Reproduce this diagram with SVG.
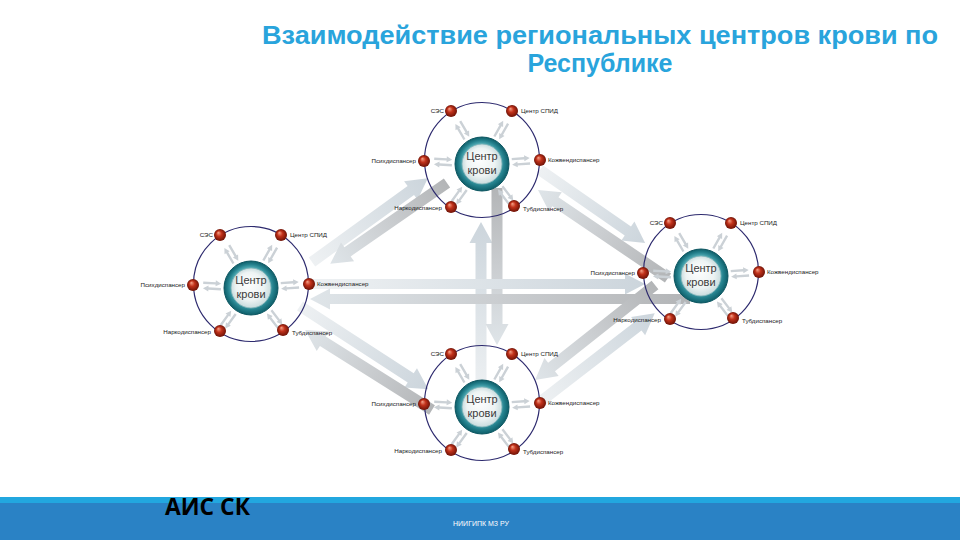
<svg xmlns="http://www.w3.org/2000/svg" xmlns:xlink="http://www.w3.org/1999/xlink" width="960" height="540" viewBox="0 0 960 540">
<defs>
<style>
.lbl{font-family:"Liberation Sans",Arial,sans-serif;font-size:6.2px;fill:#222}
.e{text-anchor:end}
.hubt{font-family:"Liberation Sans",Arial,sans-serif;font-size:11px;fill:#3a3a3a;text-anchor:middle}
.ring{fill:none;stroke:#2d2a6e;stroke-width:1.2}
.dot{fill:url(#gDot)}
.hubo{fill:url(#gHub);stroke:#0b5560;stroke-width:1}
.hubi{fill:url(#gHubIn);stroke:#7fb3b8;stroke-width:0.8}
.al{fill:url(#gLight)}
.ad{fill:url(#gDark)}
.sa{fill:#cbd1d6}
.title{font-family:"Liberation Sans",Arial,sans-serif;font-weight:bold;font-size:25px;fill:#29a4dc;text-anchor:middle}
</style>
<linearGradient id="gLight" x1="0" y1="0" x2="1" y2="0">
<stop offset="0" stop-color="#eef1f3"/>
<stop offset="1" stop-color="#ccd5dc"/>
</linearGradient>
<linearGradient id="gDark" x1="0" y1="0" x2="1" y2="0">
<stop offset="0" stop-color="#b3b5b7"/>
<stop offset="0.5" stop-color="#cacdd0"/>
<stop offset="1" stop-color="#dfe5e9"/>
</linearGradient>
<radialGradient id="gDot" cx="0.5" cy="0.5" r="0.5" fx="0.35" fy="0.3">
<stop offset="0" stop-color="#f5a48a"/>
<stop offset="0.45" stop-color="#c2321b"/>
<stop offset="1" stop-color="#6e1206"/>
</radialGradient>
<radialGradient id="gHub" cx="0.5" cy="0.5" r="0.5" fx="0.45" fy="0.4">
<stop offset="0.7" stop-color="#4aa6b0"/>
<stop offset="0.85" stop-color="#237f8b"/>
<stop offset="1" stop-color="#0e5e69"/>
</radialGradient>
<radialGradient id="gHubIn" cx="0.5" cy="0.5" r="0.5" fx="0.4" fy="0.35">
<stop offset="0" stop-color="#ffffff"/>
<stop offset="0.7" stop-color="#edf3f3"/>
<stop offset="1" stop-color="#c9dcde"/>
</radialGradient>
<g id="pair">
<path class="sa" d="M30,-4 L42.5,-4 L42.5,-5.8 L48,-2.8 L42.5,0.2 L42.5,-1.6 L30,-1.6 Z"/>
<path class="sa" d="M48,1.6 L35.5,1.6 L35.5,-0.2 L30,2.8 L35.5,5.8 L35.5,4 L48,4 Z"/>
</g>
<g id="spokes">
<use xlink:href="#pair" href="#pair" transform="rotate(-120.3)"/>
<use xlink:href="#pair" href="#pair" transform="rotate(-60.5)"/>
<use xlink:href="#pair" href="#pair" transform="rotate(-177)"/>
<use xlink:href="#pair" href="#pair" transform="rotate(-3.9)"/>
<use xlink:href="#pair" href="#pair" transform="rotate(125.8)"/>
<use xlink:href="#pair" href="#pair" transform="rotate(52.7)"/>
</g>
</defs>

<rect x="0" y="0" width="960" height="540" fill="#ffffff"/>

<g id="title">
<text class="title" x="600" y="44" textLength="676" lengthAdjust="spacingAndGlyphs">Взаимодействие региональных центров крови по</text>
<text class="title" x="600" y="72">Республике</text>
</g>

<g id="connectors">
<path class="al" transform="translate(312,262) rotate(-35.9)" d="M0,-5.5 H122 V-11.5 L143,0 L122,11.5 V5.5 H0 Z"/>
<path class="ad" transform="translate(447,183) rotate(145.3)" d="M0,-5.5 H121 V-11.5 L142,0 L121,11.5 V5.5 H0 Z"/>
<path class="al" transform="translate(540,170) rotate(34.8)" d="M0,-5.5 H107 V-11.5 L128,0 L107,11.5 V5.5 H0 Z"/>
<path class="ad" transform="translate(668,278) rotate(-145.9)" d="M0,-5.5 H136 V-11.5 L157,0 L136,11.5 V5.5 H0 Z"/>
<path class="al" transform="translate(481,395) rotate(-90)" d="M0,-5.5 H152 V-11.5 L173,0 L152,11.5 V5.5 H0 Z"/>
<path class="ad" transform="translate(497,188) rotate(90)" d="M0,-5.5 H136 V-11.5 L157,0 L136,11.5 V5.5 H0 Z"/>
<path class="al" transform="translate(312,284)" d="M0,-5 H313 V-10.5 L333,0 L313,10.5 V5 H0 Z"/>
<path class="ad" transform="translate(690,299) rotate(180)" d="M0,-5 H360 V-10.5 L380,0 L360,10.5 V5 H0 Z"/>
<path class="al" transform="translate(300,306) rotate(33)" d="M0,-5.5 H132 V-11.5 L153,0 L132,11.5 V5.5 H0 Z"/>
<path class="ad" transform="translate(432,410) rotate(-147.8)" d="M0,-5.5 H129 V-11.5 L150,0 L129,11.5 V5.5 H0 Z"/>
<path class="ad" transform="translate(655,285) rotate(141.6)" d="M0,-5.5 H132 V-11.5 L153,0 L132,11.5 V5.5 H0 Z"/>
<path class="al" transform="translate(540,402) rotate(-37.7)" d="M0,-5.5 H124 V-11.5 L145,0 L124,11.5 V5.5 H0 Z"/>
</g>

<g id="center-top" transform="translate(482,160)">
<circle class="ring" r="57.5"/>
<use xlink:href="#spokes" href="#spokes" transform="translate(0,4)"/>
<circle class="hubo" cx="0" cy="4" r="27"/>
<circle class="hubi" cx="0" cy="4" r="20"/>
<text class="hubt" x="0" y="0">Центр</text>
<text class="hubt" x="0" y="14">крови</text>
<circle class="dot" cx="-31" cy="-49" r="6"/>
<circle class="dot" cx="30" cy="-49" r="6"/>
<circle class="dot" cx="-58" cy="1" r="6"/>
<circle class="dot" cx="58" cy="0" r="6"/>
<circle class="dot" cx="-31" cy="47" r="6"/>
<circle class="dot" cx="32" cy="46" r="6"/>
<text class="lbl e" x="-38" y="-47">СЭС</text>
<text class="lbl" x="39" y="-47">Центр СПИД</text>
<text class="lbl e" x="-66" y="3">Психдиспансер</text>
<text class="lbl" x="66" y="2">Кожвендиспансер</text>
<text class="lbl e" x="-40" y="50">Наркодиспансер</text>
<text class="lbl" x="41" y="51">Тубдиспансер</text>
</g>

<g id="center-left" transform="translate(251,284)">
<circle class="ring" r="57.5"/>
<use xlink:href="#spokes" href="#spokes" transform="translate(0,4)"/>
<circle class="hubo" cx="0" cy="4" r="27"/>
<circle class="hubi" cx="0" cy="4" r="20"/>
<text class="hubt" x="0" y="0">Центр</text>
<text class="hubt" x="0" y="14">крови</text>
<circle class="dot" cx="-31" cy="-49" r="6"/>
<circle class="dot" cx="30" cy="-49" r="6"/>
<circle class="dot" cx="-58" cy="1" r="6"/>
<circle class="dot" cx="58" cy="0" r="6"/>
<circle class="dot" cx="-31" cy="47" r="6"/>
<circle class="dot" cx="32" cy="46" r="6"/>
<text class="lbl e" x="-38" y="-47">СЭС</text>
<text class="lbl" x="39" y="-47">Центр СПИД</text>
<text class="lbl e" x="-66" y="3">Психдиспансер</text>
<text class="lbl" x="66" y="2">Кожвендиспансер</text>
<text class="lbl e" x="-40" y="50">Наркодиспансер</text>
<text class="lbl" x="41" y="51">Тубдиспансер</text>
</g>

<g id="center-right" transform="translate(701,272)">
<circle class="ring" r="57.5"/>
<use xlink:href="#spokes" href="#spokes" transform="translate(0,4)"/>
<circle class="hubo" cx="0" cy="4" r="27"/>
<circle class="hubi" cx="0" cy="4" r="20"/>
<text class="hubt" x="0" y="0">Центр</text>
<text class="hubt" x="0" y="14">крови</text>
<circle class="dot" cx="-31" cy="-49" r="6"/>
<circle class="dot" cx="30" cy="-49" r="6"/>
<circle class="dot" cx="-58" cy="1" r="6"/>
<circle class="dot" cx="58" cy="0" r="6"/>
<circle class="dot" cx="-31" cy="47" r="6"/>
<circle class="dot" cx="32" cy="46" r="6"/>
<text class="lbl e" x="-38" y="-47">СЭС</text>
<text class="lbl" x="39" y="-47">Центр СПИД</text>
<text class="lbl e" x="-66" y="3">Психдиспансер</text>
<text class="lbl" x="66" y="2">Кожвендиспансер</text>
<text class="lbl e" x="-40" y="50">Наркодиспансер</text>
<text class="lbl" x="41" y="51">Тубдиспансер</text>
</g>

<g id="center-bottom" transform="translate(482,403)">
<circle class="ring" r="57.5"/>
<use xlink:href="#spokes" href="#spokes" transform="translate(0,4)"/>
<circle class="hubo" cx="0" cy="4" r="27"/>
<circle class="hubi" cx="0" cy="4" r="20"/>
<text class="hubt" x="0" y="0">Центр</text>
<text class="hubt" x="0" y="14">крови</text>
<circle class="dot" cx="-31" cy="-49" r="6"/>
<circle class="dot" cx="30" cy="-49" r="6"/>
<circle class="dot" cx="-58" cy="1" r="6"/>
<circle class="dot" cx="58" cy="0" r="6"/>
<circle class="dot" cx="-31" cy="47" r="6"/>
<circle class="dot" cx="32" cy="46" r="6"/>
<text class="lbl e" x="-38" y="-47">СЭС</text>
<text class="lbl" x="39" y="-47">Центр СПИД</text>
<text class="lbl e" x="-66" y="3">Психдиспансер</text>
<text class="lbl" x="66" y="2">Кожвендиспансер</text>
<text class="lbl e" x="-40" y="50">Наркодиспансер</text>
<text class="lbl" x="41" y="51">Тубдиспансер</text>
</g>

<g id="footer">
<rect x="0" y="497" width="960" height="7" fill="#22a7df"/>
<rect x="0" y="503" width="960" height="37" fill="#2a82c5"/>
<text x="165" y="515" font-family="'Open Sans','Liberation Sans',sans-serif" font-weight="bold" font-size="24" fill="#000000" textLength="85" lengthAdjust="spacingAndGlyphs">АИС СК</text>
<text x="481" y="526" font-family="'Liberation Sans',Arial,sans-serif" font-size="7" fill="#ffffff" text-anchor="middle">НИИГИПК МЗ РУ</text>
</g>
</svg>
